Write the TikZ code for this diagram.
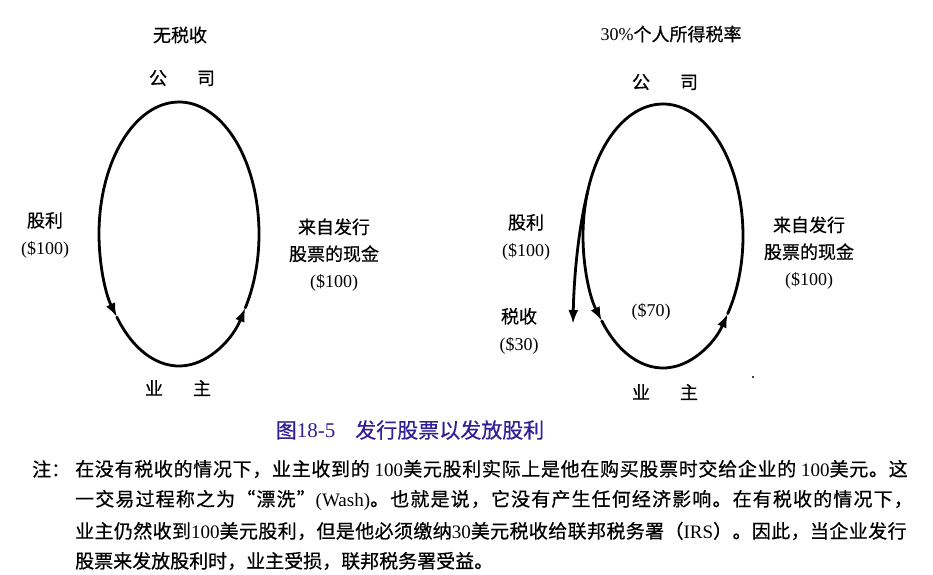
\documentclass[tikz,border=0pt]{standalone}
\usepackage{fontspec}
\setmainfont{Noto Sans CJK SC}[FakeBold=0.6]
\newfontfamily\latin{Liberation Serif}
\usetikzlibrary{arrows.meta}
\definecolor{capblue}{RGB}{48,32,150}
\newcommand{\spread}[1]{\addfontfeatures{LetterSpace=#1}}

\begin{document}
\begin{tikzpicture}[x=1pt,y=-1pt,>={Latex[length=14pt,width=10pt]},
 loop/.style={line width=2.8pt,line cap=round},
 flow/.style={loop,->},
 label/.style={font=\fontsize{18}{27}\selectfont,align=center,inner sep=0pt},
 caption/.style={font=\fontsize{21}{21}\selectfont,text=capblue,inner sep=0pt},
 note/.style={font=\fontsize{19}{19}\selectfont,anchor=west,inner sep=0pt}]
\useasboundingbox (0,0) rectangle (933,574);
\coordinate (L) at (179,234); \coordinate (R) at (663,236); \coordinate (taxtip) at (573,324);
% the two money loops
\foreach \c/\a/\b in {L/141/34,R/140/36}{
 \draw[flow] (\c) ++(270:80 and 132) arc[start angle=270,end angle=\a,x radius=80,y radius=132];
 \draw[flow] (\c) ++(\a:80 and 132) arc[start angle=\a,end angle=\b,x radius=80,y radius=132];
 \draw[loop] (\c) ++(\b:80 and 132) arc[start angle=\b,end angle=-90,x radius=80,y radius=132];
}
\draw[flow] (R) ++(200:80 and 132) .. controls +(-9,36) and +(1,-50) .. (taxtip);
% left: no tax
\node[label] (title1) at (180,35) {无税收};
\node[label] (co1) at (182,78) {公\hspace{30pt}司};
\node[label] (div1) at (45,235) {股利\\{\latin(\$100)}};
\node[label] (cash1) at (334,255) {来自发行\\股票的现金\\{\latin(\$100)}};
\node[label] (own1) at (178,388) {业\hspace{30pt}主};
% right: 30% personal tax
\node[label] (title2) at (671,34) {{\latin 30\%}个人所得税率};
\node[label] (co2) at (665,82) {公\hspace{30pt}司};
\node[label] (div2) at (526,237) {股利\\{\latin(\$100)}};
\node[label] (tax2) at (519,331) {税收\\{\latin(\$30)}};
\node[label] (net2) at (651,312) {{\latin(\$70)}};
\node[label] (cash2) at (809,253) {来自发行\\股票的现金\\{\latin(\$100)}};
\node[label] (own2) at (665,392) {业\hspace{30pt}主};
\fill (753,377) circle[radius=1.2];
% caption and note
\node[caption] (cap) at (410,430) {图{\latin 18-5}\hspace{20pt}发行股票以发放股利};
\node[note] (n0) at (32,469) {注：};
\node[note] (n1) at (75,469) {\spread{3.6}在没有税收的情况下，业主收到的 {\latin 100}美元股利实际上是他在购买股票时交给企业的 {\latin 100}美元。这};
\node[note] (n2) at (75,500) {\spread{6}一交易过程称之为“漂洗”{\latin(Wash)}。也就是说，它没有产生任何经济影响。在有税收的情况下，};
\node[note] (n3) at (75,531) {\spread{2}业主仍然收到{\latin 100}美元股利，但是他必须缴纳{\latin 30}美元税收给联邦税务署（{\latin IRS}）。因此，当企业发行};
\node[note] (n4) at (75,561) {股票来发放股利时，业主受损，联邦税务署受益。};
\end{tikzpicture}
\end{document}
